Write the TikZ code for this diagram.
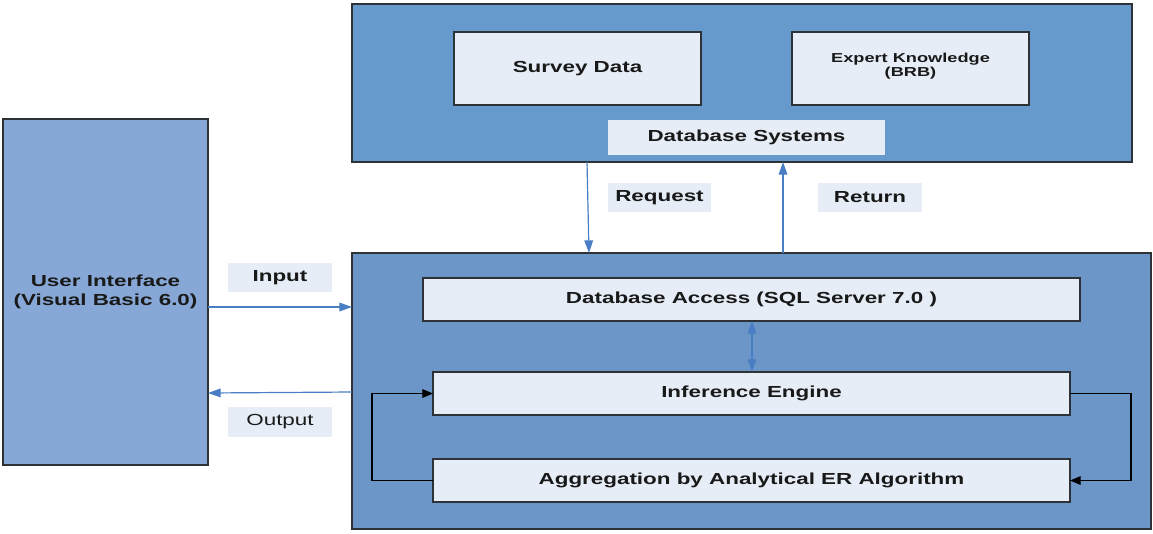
\documentclass[tikz,border=0pt]{standalone}
\usepackage{fontspec}
\setmainfont{Liberation Sans}
\newfontfamily\wide[FakeStretch=1.4]{Liberation Sans}
\usetikzlibrary{arrows.meta}
\def\pxu{0.75pt}
\definecolor{topblue}{RGB}{102,153,204}
\definecolor{lowblue}{RGB}{108,150,200}
\definecolor{uiblue}{RGB}{135,168,214}
\definecolor{pale}{RGB}{230,237,246}
\definecolor{edge}{RGB}{45,50,55}
\definecolor{arrowblue}{RGB}{74,126,196}
\definecolor{txt}{RGB}{25,25,25}
\tikzset{
  panel/.style={draw=edge, line width=1.2pt, inner sep=0pt, outer sep=0pt},
  inbox/.style={draw=edge, line width=1pt, fill=pale, inner sep=0pt, outer sep=0pt, text=txt,
    font=\wide\bfseries\fontsize{12}{14}\selectfont, align=center},
  tag/.style={fill=pale, inner sep=0pt, outer sep=0pt, text=txt,
    font=\wide\bfseries\fontsize{12}{14}\selectfont, align=center},
  flow/.style={draw=arrowblue, line width=0.9pt, -{Triangle[length=9.5pt,width=6.5pt]}},
  flow2/.style={draw=arrowblue, line width=0.9pt, {Triangle[length=9.5pt,width=6.5pt]}-{Triangle[length=9.5pt,width=6.5pt]}},
  loopline/.style={draw=black, line width=0.9pt, -{Triangle[length=8pt,width=6.5pt]}},
}
\begin{document}
\begin{tikzpicture}[x=0.75pt,y=-0.75pt]
\useasboundingbox (0,0) rectangle (1153,533);
% panels
\node[panel, fill=topblue, minimum width=780*\pxu, minimum height=158*\pxu] (top) at (742,83) {};
\node[panel, fill=lowblue, minimum width=799*\pxu, minimum height=276*\pxu] (low) at (751.5,391) {};
\node[panel, fill=uiblue, minimum width=205*\pxu, minimum height=346*\pxu, text=txt,
  font=\wide\bfseries\fontsize{12}{14.25}\selectfont, align=center] (ui) at (105.5,292) {User Interface\\(Visual Basic 6.0)};
% top contents
\node[inbox, minimum width=247*\pxu, minimum height=73*\pxu] (survey) at (577.5,68.5) {Survey Data};
\node[inbox, minimum width=237*\pxu, minimum height=73*\pxu] (expert) at (910.5,68.5) {};
\node[text=txt, font=\wide\bfseries\fontsize{9.75}{10.5}\selectfont, align=center, inner sep=0pt] (experttext) at (910.5,66) {Expert Knowledge\\(BRB)};
\node[tag, minimum width=277*\pxu, minimum height=35*\pxu] (dbsys) at (746.5,137.5) {Database Systems};
% labels
\node[tag, minimum width=103*\pxu, minimum height=29*\pxu] (reqlab) at (659.5,197.5) {Request};
\node[tag, minimum width=104*\pxu, minimum height=29*\pxu] (retlab) at (870,197.5) {Return};
\node[tag, minimum width=104*\pxu, minimum height=29*\pxu] (inlab) at (280,277.5) {Input};
\node[tag, minimum width=104*\pxu, minimum height=30*\pxu, font=\wide\fontsize{12}{14}\selectfont] (outlab) at (280,422) {Output};
% lower contents
\node[inbox, minimum width=657*\pxu, minimum height=43*\pxu] (dba) at (751.5,299.5) {Database Access (SQL Server 7.0 )};
\node[inbox, minimum width=637*\pxu, minimum height=43*\pxu] (inf) at (751.5,393.5) {Inference Engine};
\node[inbox, minimum width=637*\pxu, minimum height=43*\pxu] (agg) at (751.5,480.5) {Aggregation by Analytical ER Algorithm};
% reference coordinates for connector positions
\coordinate (xreqa) at (587,0);
\coordinate (xreqb) at (589,0);
\coordinate (xret) at (783,0);
\coordinate (yin) at (0,307);
\coordinate (youta) at (0,392);
\coordinate (youtb) at (0,393);
\coordinate (xmid) at (752,0);
% connectors
\draw[flow] (top.south -| xreqa) -- (low.north -| xreqb);
\draw[flow] (low.north -| xret) -- (top.south -| xret);
\draw[flow] (ui.east |- yin) -- (low.west |- yin);
\draw[flow] (low.west |- youta) -- (ui.east |- youtb);
\draw[flow2] (dba.south -| xmid) -- (inf.north -| xmid);
\draw[loopline] (agg.west) -- ++(-61,0) |- (inf.west);
\draw[loopline] (inf.east) -- ++(61,0) |- (agg.east);
\end{tikzpicture}
\end{document}
